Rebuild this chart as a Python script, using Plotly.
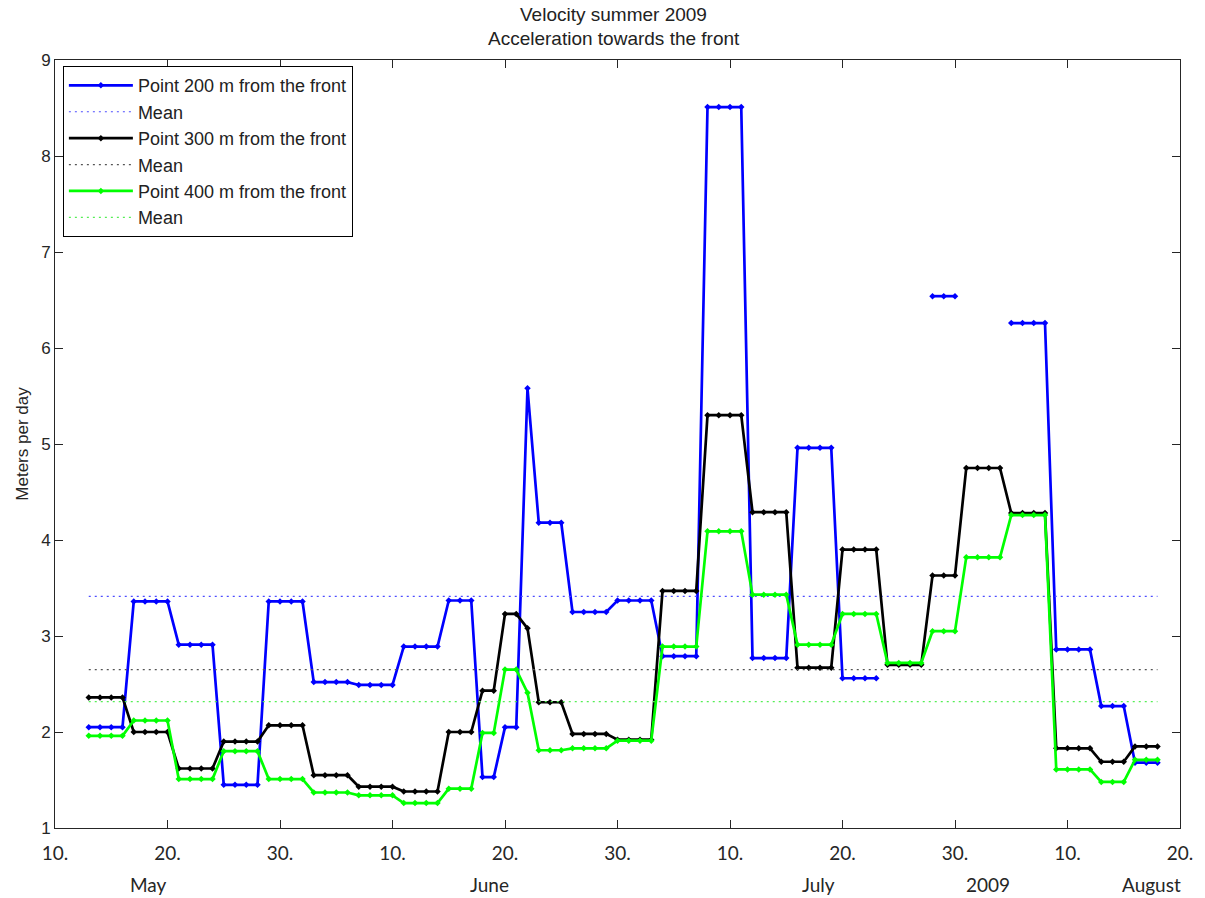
import numpy as np
import plotly.graph_objects as go

# Sampling days, counted from 10 May 2009 (one sample per day)
day = list(range(3, 99))

# Velocity (m/day) of the three points; None = no measurement
v200 = [2.05, 2.05, 2.05, 2.05,
        3.36, 3.36, 3.36, 3.36,
        2.91, 2.91, 2.91, 2.91,
        1.45, 1.45, 1.45, 1.45,
        3.36, 3.36, 3.36, 3.36,
        2.52, 2.52, 2.52, 2.52,
        2.49, 2.49, 2.49, 2.49,
        2.89, 2.89, 2.89, 2.89,
        3.37, 3.37, 3.37,
        1.53, 1.53,
        2.05, 2.05,
        5.58,
        4.18, 4.18, 4.18,
        3.25, 3.25, 3.25, 3.25,
        3.37, 3.37, 3.37, 3.37,
        2.79, 2.79, 2.79, 2.79,
        8.51, 8.51, 8.51, 8.51,
        2.77, 2.77, 2.77, 2.77,
        4.96, 4.96, 4.96, 4.96,
        2.56, 2.56, 2.56, 2.56,
        None, None, None, None,
        6.54, 6.54, 6.54,
        None, None, None, None,
        6.26, 6.26, 6.26, 6.26,
        2.86, 2.86, 2.86, 2.86,
        2.27, 2.27, 2.27,
        1.68, 1.68, 1.68]

v300 = [2.36, 2.36, 2.36, 2.36,
        2.00, 2.00, 2.00, 2.00,
        1.62, 1.62, 1.62, 1.62,
        1.90, 1.90, 1.90, 1.90,
        2.07, 2.07, 2.07, 2.07,
        1.55, 1.55, 1.55, 1.55,
        1.43, 1.43, 1.43, 1.43,
        1.38, 1.38, 1.38, 1.38,
        2.00, 2.00, 2.00,
        2.43, 2.43,
        3.23, 3.23,
        3.08,
        2.31, 2.31, 2.31,
        1.98, 1.98, 1.98, 1.98,
        1.92, 1.92, 1.92, 1.92,
        3.47, 3.47, 3.47, 3.47,
        5.30, 5.30, 5.30, 5.30,
        4.29, 4.29, 4.29, 4.29,
        2.67, 2.67, 2.67, 2.67,
        3.90, 3.90, 3.90, 3.90,
        2.70, 2.70, 2.70, 2.70,
        3.63, 3.63, 3.63,
        4.75, 4.75, 4.75, 4.75,
        4.28, 4.28, 4.28, 4.28,
        1.83, 1.83, 1.83, 1.83,
        1.69, 1.69, 1.69,
        1.85, 1.85, 1.85]

v400 = [1.96, 1.96, 1.96, 1.96,
        2.12, 2.12, 2.12, 2.12,
        1.51, 1.51, 1.51, 1.51,
        1.80, 1.80, 1.80, 1.80,
        1.51, 1.51, 1.51, 1.51,
        1.37, 1.37, 1.37, 1.37,
        1.34, 1.34, 1.34, 1.34,
        1.26, 1.26, 1.26, 1.26,
        1.41, 1.41, 1.41,
        1.99, 1.99,
        2.65, 2.65,
        2.41,
        1.81, 1.81, 1.81,
        1.83, 1.83, 1.83, 1.83,
        1.91, 1.91, 1.91, 1.91,
        2.89, 2.89, 2.89, 2.89,
        4.09, 4.09, 4.09, 4.09,
        3.43, 3.43, 3.43, 3.43,
        2.91, 2.91, 2.91, 2.91,
        3.23, 3.23, 3.23, 3.23,
        2.72, 2.72, 2.72, 2.72,
        3.05, 3.05, 3.05,
        3.82, 3.82, 3.82, 3.82,
        4.26, 4.26, 4.26, 4.26,
        1.61, 1.61, 1.61, 1.61,
        1.48, 1.48, 1.48,
        1.71, 1.71, 1.71]

series_names = ["Point 200 m from the front",
                "Point 300 m from the front",
                "Point 400 m from the front"]

x_ticktext = ["10.", "20.", "30.", "10.", "20.", "30.",
              "10.", "20.", "30.", "10.", "20."]
month_labels = ["May", "June", "July", "2009", "August"]
month_pos = [0.0835, 0.386, 0.679, 0.829, 0.975]   # paper x of the month captions

line_colors = ["#0000ff", "#000000", "#00ff00"]
mean_colors = ["#4d4dff", "#555555", "#55ee55"]

FONT = "Liberation Sans, Arial, sans-serif"
AXIS_COLOR = "#262626"

fig = go.Figure()

for k, (vals, name) in enumerate(zip([v200, v300, v400], series_names)):
    arr = np.array([np.nan if v is None else v for v in vals], dtype=float)
    fig.add_trace(go.Scatter(
        x=day, y=arr, name=name, mode="lines+markers",
        line=dict(color=line_colors[k], width=2.7),
        marker=dict(color=line_colors[k], size=5, symbol="diamond"),
        connectgaps=False, legendgroup=f"g{2*k}"))
    mean_val = float(np.nanmean(arr))
    fig.add_trace(go.Scatter(
        x=[day[0], day[-1]], y=[mean_val, mean_val], name="Mean",
        mode="lines", line=dict(color=mean_colors[k], width=1.2, dash="2px,4px"),
        legendgroup=f"g{2*k+1}"))

axis_common = dict(
    showline=True, linecolor=AXIS_COLOR, linewidth=1, mirror="ticks",
    ticks="inside", ticklen=8, tickcolor=AXIS_COLOR, tickwidth=1,
    showgrid=False, zeroline=False,
)

fig.update_xaxes(
    range=[0, 100], tickmode="array",
    tickvals=list(range(0, 101, 10)), ticktext=x_ticktext,
    tickfont=dict(family="Lato, sans-serif", size=19, color=AXIS_COLOR),
    ticklabelstandoff=8,
    **axis_common)

fig.update_yaxes(
    range=[1, 9], tickmode="linear", tick0=1, dtick=1,
    tickfont=dict(family=FONT, size=17, color=AXIS_COLOR),
    title=dict(text="Meters per day", font=dict(family=FONT, size=17, color=AXIS_COLOR),
               standoff=8),
    **axis_common)

annotations = []
for lbl, px in zip(month_labels, month_pos):
    annotations.append(dict(
        text=lbl, x=px, y=-0.074, xref="paper", yref="paper",
        xanchor="center", yanchor="middle", showarrow=False,
        font=dict(family="Lato, sans-serif", size=19, color=AXIS_COLOR)))

annotations.append(dict(
    text="Velocity summer 2009", x=0.4965, y=1.0595, xref="paper", yref="paper",
    xanchor="center", yanchor="middle", showarrow=False,
    font=dict(family=FONT, size=19, color="#222222")))
annotations.append(dict(
    text="Acceleration towards the front", x=0.4965, y=1.0285, xref="paper", yref="paper",
    xanchor="center", yanchor="middle", showarrow=False,
    font=dict(family=FONT, size=19, color="#222222")))

fig.update_layout(
    width=1205, height=898, autosize=False,
    margin=dict(l=55, r=22, t=60, b=70, pad=0),
    paper_bgcolor="white", plot_bgcolor="white",
    font=dict(family=FONT, color=AXIS_COLOR),
    showlegend=True,
    legend=dict(
        x=0.007, y=0.992, xanchor="left", yanchor="top",
        bgcolor="white", bordercolor="#000000", borderwidth=1,
        font=dict(family=FONT, size=18, color="#222222"),
        tracegroupgap=3, itemwidth=64, traceorder="normal"),
    annotations=annotations,
)

fig.write_html("out.html")
